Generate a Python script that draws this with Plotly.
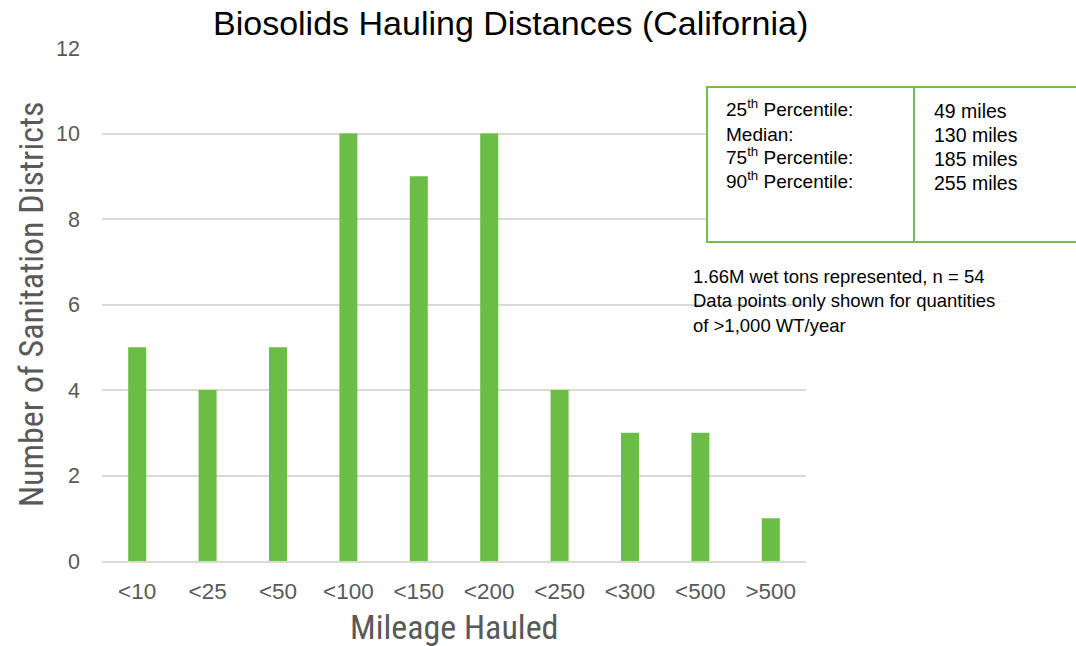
import plotly.graph_objects as go

# Hauling distance bins and number of sanitation districts in each
categories = ["<10", "<25", "<50", "<100", "<150", "<200", "<250", "<300", "<500", ">500"]
districts = [5, 4, 5, 10, 9, 10, 4, 3, 3, 1]
y_ticks = [0, 2, 4, 6, 8, 10, 12]

stat_labels = ["25<sup>th</sup> Percentile:", "Median:", "75<sup>th</sup> Percentile:", "90<sup>th</sup> Percentile:"]
stat_values = ["49 miles", "130 miles", "185 miles", "255 miles"]
note_lines = ["1.66M wet tons represented, n = 54",
              "Data points only shown for quantities",
              "of >1,000 WT/year"]

W, H = 1076, 646
GREEN = "#6cbd45"
GREY = "#595959"
NARROW = "Liberation Sans Narrow, Arial Narrow, Roboto Condensed, Liberation Sans, sans-serif"
SANS = "Liberation Sans, Arial, sans-serif"


def px(x):
    return x / W


def py(y):
    return 1 - y / H


fig = go.Figure(go.Bar(
    x=categories, y=districts, marker=dict(color=GREEN, line=dict(width=0)),
    width=0.256,
))

fig.update_layout(
    width=W, height=H,
    margin=dict(l=0, r=0, t=0, b=0, autoexpand=False),
    paper_bgcolor="white", plot_bgcolor="white",
    showlegend=False,
    xaxis=dict(domain=[px(102), px(806)], showgrid=False, showline=True,
               linecolor="#d9d9d9", linewidth=1.5, ticks="",
               tickfont=dict(family=SANS, size=22.5, color=GREY),
               ticklabelstandoff=9),
    yaxis=dict(domain=[py(561), py(48)], range=[0, 12], tickvals=y_ticks,
               showgrid=True, gridcolor="#d9d9d9", gridwidth=1.5,
               zeroline=False, showline=False, ticks="",
               tickfont=dict(family=SANS, size=21.5, color=GREY),
               ticklabelstandoff=21),
)

annotations = [
    dict(x=px(510), y=py(23), text="Biosolids Hauling Distances (California)",
         font=dict(family=SANS, size=34, color="black"),
         bgcolor="white", borderpad=2),
    dict(x=px(31), y=py(304), text="Number of Sanitation Districts", textangle=-90,
         font=dict(family=NARROW, size=34, color=GREY)),
    dict(x=px(454), y=py(627), text="Mileage Hauled",
         font=dict(family=NARROW, size=34, color=GREY)),
]
for i, (lab, val) in enumerate(zip(stat_labels, stat_values)):
    yy = 111 + 24 * i
    # superscripted labels sit taller, so nudge them up to share the value's baseline
    lift = 3 if "<sup>" in lab else 0
    annotations.append(dict(x=px(724), y=py(yy - lift), text=lab, xanchor="left",
                            font=dict(family=SANS, size=19, color="black")))
    annotations.append(dict(x=px(932), y=py(yy), text=val, xanchor="left",
                            font=dict(family=SANS, size=19.5, color="black")))
for i, line in enumerate(note_lines):
    annotations.append(dict(x=px(691), y=py(276 + 24.5 * i), text=line, xanchor="left",
                            font=dict(family=SANS, size=18.5, color="black")))
for a in annotations:
    a.update(xref="paper", yref="paper", showarrow=False)
    a.setdefault("xanchor", "center")
    a.setdefault("yanchor", "middle")
fig.update_layout(annotations=annotations)

fig.update_layout(shapes=[
    dict(type="rect", xref="paper", yref="paper", x0=px(707), x1=px(1080),
         y0=py(242), y1=py(87), fillcolor="white",
         line=dict(color="#70bf4c", width=2), layer="above"),
    dict(type="line", xref="paper", yref="paper", x0=px(914), x1=px(914),
         y0=py(242), y1=py(87), line=dict(color="#70bf4c", width=2), layer="above"),
])

fig.write_html("out.html")
